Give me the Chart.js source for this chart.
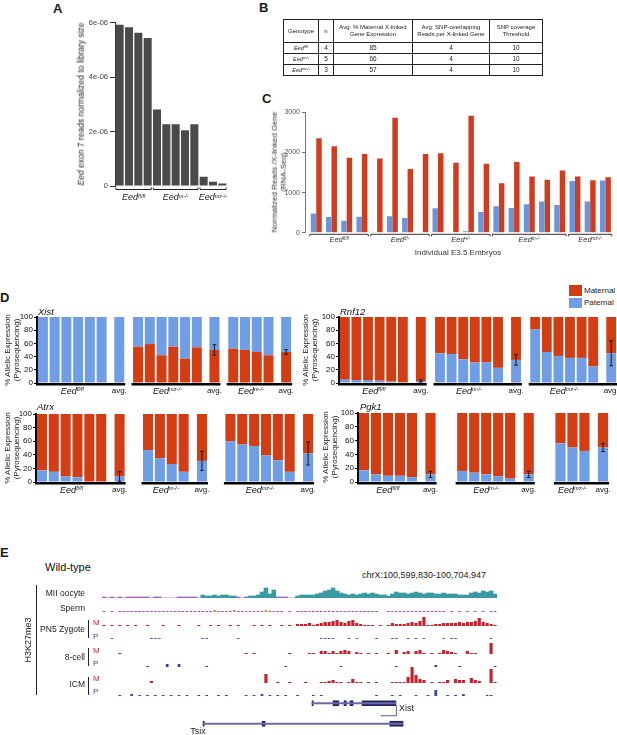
<!DOCTYPE html>
<html><head><meta charset="utf-8">
<script src="https://cdn.jsdelivr.net/npm/chart.js@4.4.1/dist/chart.umd.min.js"></script>
<style>
html,body{margin:0;padding:0}
body{width:617px;height:735px;position:relative;overflow:hidden;background:#fff;font-family:"Liberation Sans",Arial,Helvetica,sans-serif;color:#1a1a1a}
canvas{position:absolute}
.t{position:absolute;white-space:nowrap;line-height:1}
sup{font-size:62%;position:relative;top:-0.45em;vertical-align:baseline;line-height:0}
table.b{position:absolute;border-collapse:collapse;color:#222;table-layout:fixed;transform:translateZ(0)}
table.b td{border:1px solid #222;text-align:center;padding:0;line-height:1.15;overflow:hidden;color:#222}
</style></head><body>
<script>
// ---------------- DATA ----------------
// Panel A
const aValues = [5.92e-6,5.83e-6,5.62e-6,5.43e-6,2.81e-6,2.27e-6,2.27e-6,2.05e-6,2.27e-6,0.34e-6,0.16e-6,0.09e-6];
const aGroups = ['fl/fl','m-/-','mz-/-'];
const aGroupSizes = [4,5,3];
const aTicks = [0,2e-6,4e-6,6e-6];
// Panel B
const tableGenotypes = ['fl/fl','m-/-','mz-/-'];
const tableN = [4,5,3];
const tableMaternalPct = [85,66,57];
const tableSnpReads = [4,4,4];
const tableThreshold = [10,10,10];
// Panel C
const cGroups = ['fl/fl','fl/-','+/-','m-/-','mz-/-'];
const cGroupSizes = [4,4,4,5,3];
const cPaternalReads = [480,390,300,400,10,410,370,0,610,0,40,520,660,620,710,780,690,1290,780,1300];
const cMaternalReads = [2350,2150,1870,1960,1850,2860,1590,1960,1980,1740,2910,1720,1230,1760,1400,1320,1550,1400,1310,1380];
const cTicks = [0,1000,2000,3000];
// Panel D
const pctTicks = [0,20,40,60,80,100];
const xistGroups = ['fl/fl','mz-/-','m-/-'];
const xistMaternal = [[0,0,0,0,0,0],[55,59,42,55,37,54],[52,50,47,42]];
const xistPaternal = [[100,100,100,100,100,100],[45,41,58,45,63,46],[48,50,53,58]];
const xistAvgMaternal = [0,50,47];
const xistAvgPaternal = [100,50,53];
const xistSem = [0,8,3.5];
const rnf12Groups = ['fl/fl','m-/-','mz-/-'];
const rnf12Paternal = [[5,4.5,4.5,3.5,2,1],[45,44,36,31,31,23],[81,47,41,38,38,25]];
const rnf12Maternal = [[95,95.5,95.5,96.5,98,99],[55,56,64,69,69,77],[19,53,59,62,62,75]];
const rnf12AvgPaternal = [3,35,45];
const rnf12AvgMaternal = [97,65,55];
const rnf12Sem = [1.5,8,19];
const atrxGroups = ['fl/fl','m-/-','mz-/-'];
const atrxPaternal = [[17,15,8,7,0,0],[47,35,26.5,15],[60,55,53,39,32,15]];
const atrxMaternal = [[83,85,92,93,100,100],[53,65,73.5,85],[40,45,47,61,68,85]];
const atrxAvgPaternal = [8,31,42];
const atrxAvgMaternal = [92,69,58];
const atrxSem = [7,14,17];
const pgk1Groups = ['fl/fl','m-/-','mz-/-'];
const pgk1Paternal = [[17,11,9,9,7],[16,13.5,11,8,5],[56,50,45]];
const pgk1Maternal = [[83,89,91,91,93],[84,86.5,89,92,95],[44,50,55]];
const pgk1AvgPaternal = [11,11,50];
const pgk1AvgMaternal = [89,89,50];
const pgk1Sem = [4.5,4.5,6];
// Panel E (signal per genomic bin, 100 bins across the region)
const miiOocyte = [1,0,1,0,1,0,1,1,1,1, 1,1,0,1,1,0,0,0,0,1, 1,1,1,1,0,3,2,2,3,2, 3,3,2,2,1,0,1,2,2,3, 6,10,4,8,1,1,1,0,0,2, 3,3,3,3,4,5,7,8,10,7, 5,4,3,4,3,4,5,4,5,4, 3,3,2,4,6,5,5,4,5,6, 5,4,5,5,4,4,5,4,4,4, 3,3,3,5,6,5,7,6,7,4];
const sperm = [1,0,1,0,1,1,1,1,1,1, 1,1,1,1,1,1,1,1,1,1, 1,1,1,1,1,1,1,1,2,1, 1,1,1,2,1,1,1,1,1,1, 1,2,1,1,1,1,0,1,0,1, 1,1,1,1,1,1,1,1,1,1, 1,1,1,1,1,1,1,1,1,1, 0,0,1,1,1,1,1,1,1,1, 1,1,1,1,1,1,1,0,1,0, 1,0,1,0,1,0,1,0,1,1];
const pn5M = [1,0,1,0,1,0,1,0,1,0, 0,1,0,0,0,1,0,0,0,1, 0,0,0,0,1,0,0,1,0,1, 0,0,1,0,1,0,0,0,1,0, 1,0,1,0,0,1,0,1,0,2, 2,2,3,1,2,3,4,4,5,6, 4,3,5,6,3,2,1,1,1,0, 1,0,1,3,2,2,2,3,4,3, 5,9,1,1,2,2,3,3,3,3, 4,3,4,4,5,8,4,3,2,1];
const pn5P = [0,0,1,0,0,0,0,0,0,0, 0,0,1,1,1,0,0,0,0,0, 0,0,0,0,0,1,1,0,0,0, 0,0,0,0,1,0,0,0,0,0, 0,0,0,0,0,0,0,0,0,0, 0,0,0,0,0,1,1,1,1,0, 0,0,1,0,1,0,0,0,0,1, 0,0,0,1,1,0,0,1,0,1, 0,1,0,0,0,0,1,0,1,1, 0,0,0,0,0,0,0,0,1,0];
const cell8M = [0,0,0,0,1,0,0,0,0,0, 0,0,0,0,0,0,0,0,0,0, 0,0,0,0,0,0,0,0,0,0, 0,0,0,0,0,0,1,0,1,0, 0,0,0,0,0,0,0,1,0,0, 0,0,1,1,0,3,3,1,3,1, 3,4,3,0,2,1,0,1,0,1, 0,0,1,0,4,0,2,3,0,3, 4,1,0,1,0,1,4,3,2,1, 0,0,3,1,1,0,0,0,11,0];
const cell8P = [0,0,0,0,0,0,0,0,0,0, 0,1,0,0,0,0,3,0,0,3, 0,0,0,0,0,0,1,0,0,0, 0,0,0,0,0,0,0,0,0,0, 0,0,0,0,0,0,1,0,0,0, 0,0,0,0,0,0,0,0,0,0, 1,0,0,0,0,0,0,0,0,0, 0,0,0,0,1,0,0,0,0,0, 0,0,0,0,2,0,0,0,0,0, 1,0,0,0,0,0,0,0,0,1];
const icmM = [0,0,0,0,0,0,0,0,0,0, 0,0,2,0,0,0,0,0,0,0, 0,0,0,0,0,0,0,0,0,0, 0,0,0,0,0,0,0,0,0,0, 0,9,0,0,1,0,0,1,0,0, 0,1,0,0,0,1,1,2,3,1, 1,0,1,4,1,1,0,1,0,1, 0,0,0,1,1,1,1,6,16,8, 4,3,0,1,0,1,1,3,0,4, 3,3,0,5,3,2,0,0,14,1];
const icmP = [0,0,0,0,1,0,0,2,0,1, 0,1,0,1,0,1,0,1,0,1, 0,1,0,0,1,0,1,0,0,1, 0,1,0,0,0,0,1,0,1,0, 2,0,1,0,1,0,1,0,0,1, 0,0,0,1,0,1,0,0,0,0, 0,0,0,0,0,0,0,0,0,1, 0,0,0,1,0,1,0,0,0,1, 0,0,1,0,6,0,0,1,0,1, 0,2,0,0,0,0,0,1,1,0];
const regionKb = 105.117;
const xistSpan = [55.9,78.2];
const xistExons = [[55.9,56.2],[61.5,63.0],[64.4,65.0],[66.0,66.8],[69.2,78.2]];
const tsixSpan = [26.9,80.1];
const tsixExons = [[26.9,27.2],[42.6,43.4],[76.6,80.1]];

// ---------------- HELPERS ----------------
Chart.defaults.font.family = '"Liberation Sans", Arial, sans-serif';
Chart.defaults.color = '#222';
const base = {responsive:false, maintainAspectRatio:false, animation:false, devicePixelRatio:1, events:[],
  plugins:{legend:{display:false}, tooltip:{enabled:false}}};
function mkCanvas(l,t,w,h){const c=document.createElement('canvas');w=Math.round(w);h=Math.round(h);
  c.width=w;c.height=h;Object.assign(c.style,{left:l+'px',top:t+'px',width:w+'px',height:h+'px'});document.body.appendChild(c);return c;}
function txt(html,x,y,style,anchor){const d=document.createElement('div');d.className='t';d.innerHTML=html;
  d.style.cssText+=';left:'+x+'px;top:'+y+'px;'+(style||'');
  d.style.transform={c:'translate(-50%,-50%)',l:'translate(0,-50%)',r:'translate(-100%,-50%)',v:'translate(-50%,-50%) rotate(-90deg)'}[anchor||'c'];
  document.body.appendChild(d);return d;}
const eed = g => '<i>Eed<sup>'+g+'</sup></i>';

// ---------------- PANEL LETTERS ----------------
txt('A',53,8,'font-weight:bold;font-size:13px','l');
txt('B',259,7,'font-weight:bold;font-size:13px','l');
txt('C',262,98,'font-weight:bold;font-size:13px','l');
txt('D',0,297,'font-weight:bold;font-size:13px','l');
txt('E',0,552,'font-weight:bold;font-size:13px','l');

// ---------------- PANEL A ----------------
(function(){
  const L=115,R=227,T=22,B=186,yW=30,pT=6,pB=16,pR=2;
  const c=mkCanvas(L-yW,T-pT,R-L+yW+pR,B-T+pT+pB);
  new Chart(c,{type:'bar',data:{labels:aValues.map((_,i)=>i+1),datasets:[{data:aValues,backgroundColor:'#4a4a4a',barPercentage:0.86,categoryPercentage:1}]},
    options:{...base,layout:{padding:{left:0,top:pT,right:pR,bottom:pB}},
      scales:{x:{display:false},
        y:{min:0,max:6e-6,afterFit:s=>{s.width=yW;},afterBuildTicks:s=>{s.ticks=aTicks.map(v=>({value:v}));},
          ticks:{font:{size:7.5},color:'#444',padding:2,callback:v=>v===0?'0':Math.round(v*1e6)+'e-06'},
          grid:{drawOnChartArea:false,drawTicks:true,tickLength:5,color:'#333',lineWidth:1},
          border:{color:'#333',width:1}}}},
    plugins:[{id:'br',afterDraw(ch){const ctx=ch.ctx,w=(ch.chartArea.right-ch.chartArea.left)/aValues.length;
      let s=0;const y=ch.chartArea.bottom+3.5;ctx.strokeStyle='#222';ctx.lineWidth=1;
      aGroupSizes.forEach((n,gi)=>{const x0=ch.chartArea.left+s*w+1,x1=ch.chartArea.left+(s+n)*w-1;
        ctx.beginPath();ctx.moveTo(x0,y-2);ctx.lineTo(x0,y);ctx.lineTo(x1,y);ctx.lineTo(x1,y-2);ctx.stroke();
        txt(eed(aGroups[gi]),(L-yW)+(x0+x1)/2,197,'font-size:9px;color:#222');s+=n;});}}]});
  txt('<i>Eed</i> exon 7 reads normalized to library size',81,104,'font-size:8.5px;color:#222','v');
})();

// ---------------- PANEL B ----------------
(function(){
  const t=document.createElement('table');t.className='b';
  Object.assign(t.style,{left:'283px',top:'19px',width:'259px'});
  const widths=[35,15,79,77,53];
  let h='<colgroup>'+widths.map(w=>'<col style="width:'+w+'px">').join('')+'</colgroup>';
  h+='<tr style="height:23px;font-size:6px"><td>Genotype</td><td>n</td><td>Avg. % Maternal X-linked<br>Gene Expression</td><td>Avg. SNP-overlapping<br>Reads per X-linked Gene</td><td>SNP coverage<br>Threshold</td></tr>';
  tableGenotypes.forEach((g,i)=>{h+='<tr style="height:11px;font-size:6.5px"><td style="font-size:5.5px">'+eed(g)+'</td><td>'+tableN[i]+'</td><td>'+tableMaternalPct[i]+'</td><td>'+tableSnpReads[i]+'</td><td>'+tableThreshold[i]+'</td></tr>';});
  t.innerHTML=h;document.body.appendChild(t);
})();

// ---------------- PANEL C ----------------
(function(){
  const L=305,R=613,T=112,B=233,yW=28,pT=6,pB=6,pR=2;
  const c=mkCanvas(L-yW,T-pT,R-L+yW+pR,B-T+pT+pB);
  new Chart(c,{type:'bar',data:{datasets:[
      {data:cPaternalReads.map((v,i)=>({x:i,y:v})),backgroundColor:'#6b95d8',categoryPercentage:0.72,barPercentage:1},
      {data:cMaternalReads.map((v,i)=>({x:i,y:v})),backgroundColor:'#d23c1e',categoryPercentage:0.72,barPercentage:1}]},
    options:{...base,layout:{padding:{left:0,top:pT,right:pR,bottom:pB}},
      scales:{x:{type:'linear',display:false,offset:false,min:-0.74,max:19.5,afterBuildTicks:s=>{s.ticks=[{value:0},{value:1}];}},
        y:{min:0,max:3000,afterFit:s=>{s.width=yW;},afterBuildTicks:s=>{s.ticks=cTicks.map(v=>({value:v}));},
          ticks:{font:{size:7},color:'#555',padding:2,callback:v=>String(v)},
          grid:{drawOnChartArea:false,drawTicks:true,tickLength:3,color:'#777',lineWidth:1},
          border:{color:'#777',width:1}}}},
    plugins:[{id:'br',afterDraw(ch){const ctx=ch.ctx,xs=ch.scales.x;let s=0;const y=ch.chartArea.bottom+1.5;
      ctx.strokeStyle='#333';ctx.lineWidth=1;
      cGroupSizes.forEach((n,gi)=>{const x0=xs.getPixelForValue(s-0.42),x1=xs.getPixelForValue(s+n-1+0.42);
        ctx.beginPath();ctx.moveTo(x0,y+2);ctx.lineTo(x0,y);ctx.lineTo(x1,y);ctx.lineTo(x1,y+2);ctx.stroke();
        txt(eed(cGroups[gi]),(L-yW)+(x0+x1)/2,240,'font-size:7.5px;color:#333');s+=n;});}}]});
  txt('Normalized Reads /X-linked Gene<br>(RNA-Seq)',279,172,'font-size:8px;color:#333;text-align:center;line-height:1.15','v');
  txt('Individual E3.5 Embryos',458,253,'font-size:8px;color:#333');
})();

// ---------------- PANEL D ----------------
function allelicPanel(o){
  const bPts=[],tPts=[],info=[];let x=0;
  o.bottom.forEach((g,gi)=>{const s=x;
    g.forEach((v,i)=>{bPts.push({x:x,y:v});tPts.push({x:x,y:o.top[gi][i]});x++;});
    const ax=(x-1)+o.gapAvg;
    bPts.push({x:ax,y:o.avgB[gi]});tPts.push({x:ax,y:o.avgT[gi]});
    info.push({s:s,e:x-1,ax:ax,avg:o.avgB[gi],err:o.err[gi]});
    x=ax+o.gapGroup;});
  const maxX=info[info.length-1].ax;
  const yW=22,pT=6,pB=8,pR=2,cl=o.L-yW;
  const c=mkCanvas(cl,o.T-pT,o.R-o.L+yW+pR,o.B-o.T+pT+pB);
  const bp=0.85;
  new Chart(c,{type:'bar',data:{datasets:[
      {data:bPts,backgroundColor:o.colB,barPercentage:bp,categoryPercentage:1,stack:'s'},
      {data:tPts,backgroundColor:o.colT,barPercentage:bp,categoryPercentage:1,stack:'s'}]},
    options:{...base,layout:{padding:{left:0,top:pT,right:pR,bottom:pB}},
      scales:{x:{type:'linear',display:false,offset:false,min:-0.5,max:maxX+0.5,afterBuildTicks:s=>{s.ticks=[{value:0},{value:1}];}},
        y:{stacked:true,min:0,max:100,afterFit:s=>{s.width=yW;},afterBuildTicks:s=>{s.ticks=pctTicks.map(v=>({value:v}));},
          ticks:{font:{size:8},color:'#111',padding:1},
          grid:{drawOnChartArea:false,drawTicks:true,tickLength:3,color:'#000',lineWidth:1},
          border:{color:'#000',width:2}}}},
    plugins:[{id:'pp',afterDatasetsDraw(ch){const ctx=ch.ctx,xs=ch.scales.x,ys=ch.scales.y,ca=ch.chartArea;
      const pitch=xs.getPixelForValue(1)-xs.getPixelForValue(0),hw=pitch*bp/2;
      info.forEach((g,gi)=>{
        const x0=gi===0?ca.left-1:xs.getPixelForValue(g.s)-hw-1.5,x1=xs.getPixelForValue(g.ax)+hw+1;
        ctx.fillStyle='#000';ctx.fillRect(x0,ca.bottom,x1-x0,2.5);
        if(g.err>0){const cx=xs.getPixelForValue(g.ax),yt=ys.getPixelForValue(g.avg+g.err),yb=ys.getPixelForValue(g.avg-g.err);
          ctx.strokeStyle='#1a1a1a';ctx.lineWidth=1;ctx.beginPath();
          ctx.moveTo(cx,yt);ctx.lineTo(cx,yb);ctx.moveTo(cx-1.8,yt);ctx.lineTo(cx+1.8,yt);ctx.moveTo(cx-1.8,yb);ctx.lineTo(cx+1.8,yb);ctx.stroke();}
        const lc=cl+(xs.getPixelForValue(g.s)+xs.getPixelForValue(g.e))/2;
        txt(eed(o.groups[gi]),lc,o.B+7.5,'font-size:9px;color:#111');
        txt('avg.',cl+xs.getPixelForValue(g.ax),o.B+7.5,'font-size:8px;color:#111');
      });}}]});
  txt('<i>'+o.name+'</i>',o.nameX,o.nameY,'font-size:9.5px;color:#111','l');
  txt('% Allelic Expression<br>(Pyrosequencing)',o.titleX,o.titleY,'font-size:8px;color:#222;text-align:center;line-height:1.1','v');
}
const RED='#d23d14',BLUE='#6f9de6';
allelicPanel({name:'Xist',nameX:38,nameY:312,titleX:13,titleY:350,groups:xistGroups,
  bottom:xistMaternal,top:xistPaternal,avgB:xistAvgMaternal,avgT:xistAvgPaternal,err:xistSem,colB:RED,colT:BLUE,
  gapAvg:1.5,gapGroup:1.6,L:37,R:292,T:317,B:383});
allelicPanel({name:'Rnf12',nameX:340,nameY:312,titleX:311,titleY:350,groups:rnf12Groups,
  bottom:rnf12Paternal,top:rnf12Maternal,avgB:rnf12AvgPaternal,avgT:rnf12AvgMaternal,err:rnf12Sem,colB:BLUE,colT:RED,
  gapAvg:1.55,gapGroup:1.65,L:339,R:617,T:317,B:383});
allelicPanel({name:'Atrx',nameX:37,nameY:407,titleX:13,titleY:448,groups:atrxGroups,
  bottom:atrxPaternal,top:atrxMaternal,avgB:atrxAvgPaternal,avgT:atrxAvgMaternal,err:atrxSem,colB:BLUE,colT:RED,
  gapAvg:1.55,gapGroup:2.4,L:36,R:314,T:414,B:482});
allelicPanel({name:'Pgk1',nameX:360,nameY:407,titleX:331,titleY:447,groups:pgk1Groups,
  bottom:pgk1Paternal,top:pgk1Maternal,avgB:pgk1AvgPaternal,avgT:pgk1AvgMaternal,err:pgk1Sem,colB:BLUE,colT:RED,
  gapAvg:1.55,gapGroup:2.65,L:358,R:609,T:413,B:482});
// legend
(function(){
  const a=document.createElement('div');Object.assign(a.style,{position:'absolute',left:'569px',top:'285px',width:'13px',height:'11px',background:RED});document.body.appendChild(a);
  const b=document.createElement('div');Object.assign(b.style,{position:'absolute',left:'569px',top:'298px',width:'13px',height:'10px',background:BLUE});document.body.appendChild(b);
  txt('Maternal',584,290.5,'font-size:8px;color:#222','l');
  txt('Paternal',584,303,'font-size:8px;color:#222','l');
})();

// ---------------- PANEL E ----------------
function track(data,baseline,h,colorFn,bp){
  const c=mkCanvas(102,baseline-h,395,h);
  new Chart(c,{type:'bar',data:{labels:data.map((_,i)=>i),datasets:[{data:data,backgroundColor:ctx=>colorFn(ctx.raw),barPercentage:bp,categoryPercentage:1}]},
    options:{...base,layout:{padding:0},scales:{x:{display:false},y:{display:false,min:0,max:h}}}});
}
track(miiOocyte,598,11,v=>v>1?'#3a9aa2':'#a066b4',1);
track(sperm,612,4,v=>v>1?'#d99a3a':'#a45ab2',0.7);
track(pn5M,626,10,v=>'#c8202c',0.8);
track(pn5P,639,4,v=>'#6a5ab0',0.7);
track(cell8M,654,12,v=>'#c8202c',0.8);
track(cell8P,667,4,v=>'#2a48a8',0.7);
track(icmM,683,17,v=>'#c8202c',0.8);
track(icmP,696,7,v=>'#3a48a8',0.7);
(function(){
  const c=mkCanvas(102,693,395,41);
  new Chart(c,{type:'bar',data:{labels:['Xist','Tsix'],datasets:[
      {data:[{y:'Xist',x:xistSpan},{y:'Tsix',x:tsixSpan}],backgroundColor:'#6a6aa6',barThickness:1.5,grouped:false},
      {data:xistExons.map(e=>({y:'Xist',x:e})).concat(tsixExons.map(e=>({y:'Tsix',x:e}))),backgroundColor:'#262466',barThickness:5,grouped:false}]},
    options:{...base,indexAxis:'y',layout:{padding:0},scales:{x:{type:'linear',display:false,offset:false,min:0,max:regionKb},y:{display:false}}},
    plugins:[{id:'arr',afterDraw(ch){const ctx=ch.ctx,xs=ch.scales.x,ys=ch.scales.y;const xe=xs.getPixelForValue(xistSpan[1]),y0=ys.getPixelForValue(0);
      ctx.strokeStyle='#5a5a9a';ctx.lineWidth=1;ctx.beginPath();ctx.moveTo(xe+0.5,y0+2);ctx.lineTo(xe+0.5,y0+12.5);ctx.lineTo(xe-15,y0+12.5);ctx.stroke();}}]});
})();
txt('Xist',399,708,'font-size:9px;color:#222','l');
txt('Tsix',198,731,'font-size:9px;color:#222');
txt('Wild-type',45,567,'font-size:11px;color:#111','l');
txt('chrX:100,599,830-100,704,947',362,575,'font-size:9px;color:#222','l');
txt('H3K27me3',28,640,'font-size:9px;color:#222','v');
(function(){
  const ln=(l,t,w,h)=>{const d=document.createElement('div');Object.assign(d.style,{position:'absolute',left:l+'px',top:t+'px',width:w+'px',height:h+'px',background:'#222'});document.body.appendChild(d);};
  ln(36,585,1,110);
  ln(88,620,1,18);ln(88,648,1,18);ln(88,677,1,18);
})();
txt('MII oocyte',85,593,'font-size:8.5px;color:#222','r');
txt('Sperm',85,608,'font-size:8.5px;color:#222','r');
txt('PN5 Zygote',85,629,'font-size:8.5px;color:#222','r');
txt('8-cell',85,657,'font-size:8.5px;color:#222','r');
txt('ICM',85,684,'font-size:8.5px;color:#222','r');
[['M',623,'#d0302c'],['P',637,'#2a50b0'],['M',651,'#d0302c'],['P',664,'#2a50b0'],['M',679,'#d0302c'],['P',692,'#2a50b0']]
  .forEach(m=>txt(m[0],93,m[1],'font-size:8px;color:'+m[2],'l'));
</script>
</body></html>
